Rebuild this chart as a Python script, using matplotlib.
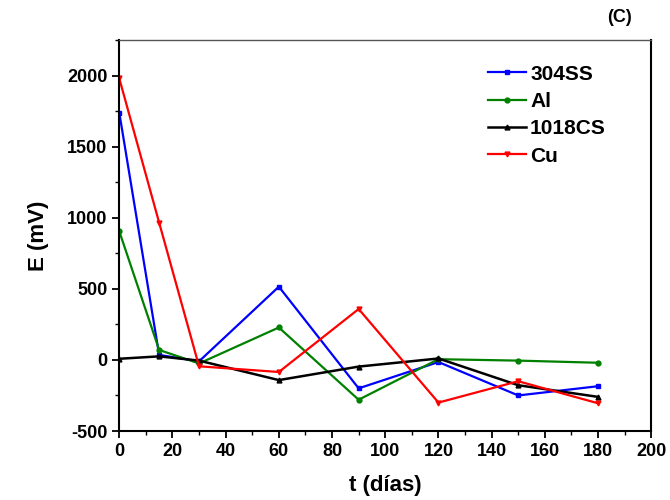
import matplotlib
matplotlib.use("Agg")
import matplotlib.pyplot as plt
from matplotlib.ticker import MultipleLocator

plt.rcParams['font.family'] = ['Liberation Sans', 'DejaVu Sans']
plt.rcParams['font.weight'] = 'bold'
plt.rcParams['axes.unicode_minus'] = False

# dias de exposicion
t = [0, 15, 30, 60, 90, 120, 150, 180]
# potencial (mV)
e_304ss = [1740, 35, -10, 515, -200, -15, -250, -185]
e_al = [905, 70, -25, 228, -280, 5, -5, -20]
e_1018cs = [8, 25, -5, -142, -47, 10, -178, -260]
e_cu = [1980, 965, -45, -85, 358, -300, -150, -305]

fig = plt.figure(figsize=(6.7, 5), dpi=100)
ax = fig.add_axes([0.178, 0.138, 0.794, 0.782])

ax.plot(t, e_304ss, color='#0000ff', marker='s', ms=3.5, lw=1.6, label='304SS')
ax.plot(t, e_al, color='#008000', marker='o', ms=3.5, lw=1.6, label='Al')
ax.plot(t, e_1018cs, color='black', marker='^', ms=3.5, lw=1.8, label='1018CS')
ax.plot(t, e_cu, color='#ff0000', marker='v', ms=3.5, lw=1.6, label='Cu')

ax.set_xlim(0, 200)
ax.set_ylim(-500, 2250)
ax.xaxis.set_major_locator(MultipleLocator(20))
ax.xaxis.set_minor_locator(MultipleLocator(10))
ax.yaxis.set_major_locator(MultipleLocator(500))
ax.yaxis.set_minor_locator(MultipleLocator(250))
ax.tick_params(which='major', direction='out', length=5, width=1.3, labelsize=13)
ax.tick_params(which='minor', direction='out', length=3, width=1.0)
ax.tick_params(top=False, right=False)
for lab in ax.get_xticklabels() + ax.get_yticklabels():
    lab.set_fontweight('bold')

ax.spines['left'].set_linewidth(1.5)
ax.spines['bottom'].set_linewidth(1.5)
ax.spines['right'].set_linewidth(1.5)
ax.spines['top'].set_linewidth(1.0)
ax.spines['top'].set_color('#555555')

ax.set_xlabel('t (días)', fontsize=16, fontweight='bold', labelpad=11)
ax.set_ylabel('E (mV)', fontsize=16, fontweight='bold', labelpad=13)

ax.legend(loc='upper right', bbox_to_anchor=(0.95, 0.985), frameon=False,
          handlelength=1.8, handletextpad=0.2, labelspacing=0.4,
          prop={'weight': 'bold', 'size': 15})

fig.text(0.925, 0.964, '(C)', fontsize=13, fontweight='bold', ha='center', va='center')

fig.savefig('out.png', dpi=100)
